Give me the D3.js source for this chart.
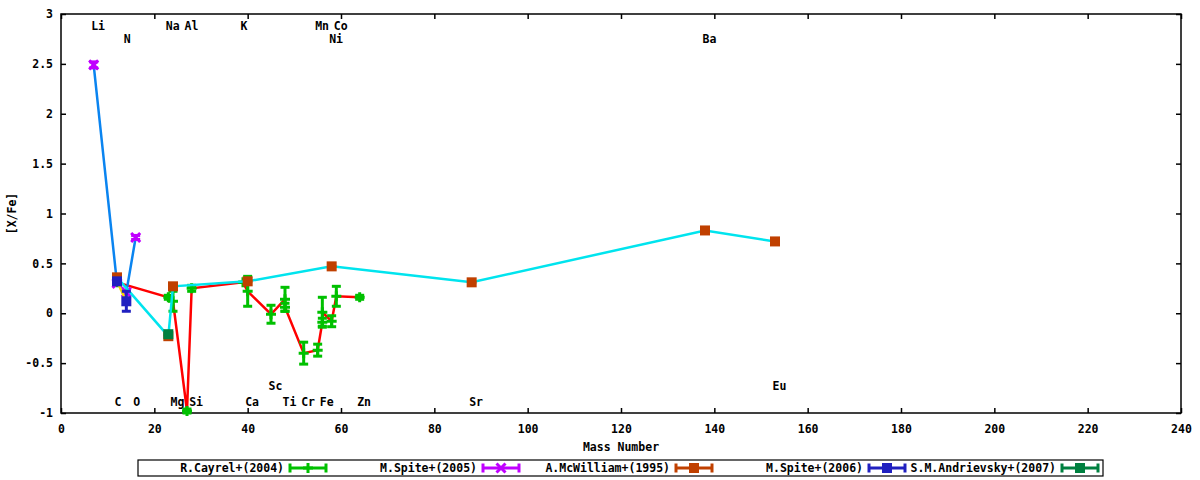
<!DOCTYPE html>
<html>
<head>
<meta charset="utf-8">
<script src="https://cdn.jsdelivr.net/npm/d3@7"></script>
<style>
body { margin: 0; background: #fff; }
svg text { font-family: "DejaVu Sans Mono", monospace; font-weight: bold; font-size: 11.5px; fill: #000; }
</style>
</head>
<body>
<svg></svg>
<script>
// R.Cayrel+(2004)
let cayrelMass = [12, 23, 24, 27, 28, 39, 40, 45, 48, 48, 52, 55, 56, 56, 58, 59, 64];
let cayrelVal = [0.31, 0.16, 0.12, -0.98, 0.25, 0.31, 0.22, -0.01, 0.14, 0.06, -0.4, -0.37, -0.09, 0.01, -0.08, 0.17, 0.16];
let cayrelErr = [0, 0.02, 0.1, 0.02, 0.03, 0, 0.15, 0.09, 0.12, 0.04, 0.11, 0.06, 0.04, 0.15, 0.055, 0.1, 0.02];

// M.Spite+(2005)
let spite05Mass = [7, 12, 14, 16];
let spite05Val = [2.49, 0.3, 0.21, 0.76];
let spite05Err = [0.03, 0, 0, 0.02];

// A.McWilliam+(1995)
let mcwMass = [12, 23, 24, 40, 58, 88, 138, 153];
let mcwVal = [0.36, -0.23, 0.27, 0.32, 0.47, 0.31, 0.83, 0.72];
let mcwErr = [0, 0, 0, 0, 0, 0, 0, 0];

// M.Spite+(2006)
let spite06Mass = [12, 14];
let spite06Val = [0.32, 0.12];
let spite06Err = [0, 0.1];

// S.M.Andrievsky+(2007)
let andMass = [23];
let andVal = [-0.21];
let andErr = [0];

// element labels (name, mass number, [X/Fe] height)
let topNames = ["Li", "Na", "Al", "K", "Mn", "Co", "N", "Ni", "Ba"];
let topMass = [7, 23, 27, 39, 55, 59, 14, 58, 138];
let topY = [2.88, 2.88, 2.88, 2.88, 2.88, 2.88, 2.755, 2.755, 2.755];
let botNames = ["C", "O", "Mg", "Si", "Ca", "Ti", "Cr", "Fe", "Zn", "Sr", "Sc", "Eu"];
let botMass = [12, 16, 24, 28, 40, 48, 52, 56, 64, 88, 45, 153];
let botY = [-0.89, -0.89, -0.89, -0.89, -0.89, -0.89, -0.89, -0.89, -0.89, -0.89, -0.73, -0.73];

// ticks
let xTicks = [0, 20, 40, 60, 80, 100, 120, 140, 160, 180, 200, 220, 240];
let yTicks = [-1, -0.5, 0, 0.5, 1, 1.5, 2, 2.5, 3];

let width = 1200;
let height = 480;
let plotLeft = 61, plotRight = 1181, plotTop = 14, plotBottom = 413;

let series = [
	{ name: "R.Cayrel+(2004)", mass: cayrelMass, val: cayrelVal, err: cayrelErr, line: "#ff0000", color: "#00c000", shape: "plus" },
	{ name: "M.Spite+(2005)", mass: spite05Mass, val: spite05Val, err: spite05Err, line: "#0a84f0", color: "#c000ff", shape: "cross" },
	{ name: "A.McWilliam+(1995)", mass: mcwMass, val: mcwVal, err: mcwErr, line: "#00e4ee", color: "#c04000", shape: "square" },
	{ name: "M.Spite+(2006)", mass: spite06Mass, val: spite06Val, err: spite06Err, line: "#f0e000", color: "#2020c0", shape: "square" },
	{ name: "S.M.Andrievsky+(2007)", mass: andMass, val: andVal, err: andErr, line: "#008040", color: "#008040", shape: "square" }
];

let svg = d3.select("svg").attr("width", width).attr("height", height);

let xScale = d3.scaleLinear().domain([0, 240]).range([plotLeft, plotRight]);
let yScale = d3.scaleLinear().domain([-1, 3]).range([plotBottom, plotTop]);

// axes, ticks pointing inward
let fmt = (d) => String(d);
svg.append("g").attr("transform", "translate(0," + plotBottom + ")")
	.call(d3.axisBottom(xScale).tickValues(xTicks).tickFormat(fmt).tickSize(-5).tickPadding(12));
svg.append("g").attr("transform", "translate(0," + plotTop + ")")
	.call(d3.axisTop(xScale).tickValues(xTicks).tickFormat("").tickSize(-5));
svg.append("g").attr("transform", "translate(" + plotLeft + ",0)")
	.call(d3.axisLeft(yScale).tickValues(yTicks).tickFormat(fmt).tickSize(-5).tickPadding(8));
svg.append("g").attr("transform", "translate(" + plotRight + ",0)")
	.call(d3.axisRight(yScale).tickValues(yTicks).tickFormat("").tickSize(-5));
svg.selectAll(".domain").remove();
svg.selectAll(".tick line").attr("stroke", "#000").attr("stroke-width", 1.5);
svg.selectAll("g").attr("font-size", null).attr("font-family", null);
svg.append("rect")
	.attr("x", plotLeft).attr("y", plotTop)
	.attr("width", plotRight - plotLeft).attr("height", plotBottom - plotTop)
	.attr("fill", "none").attr("stroke", "#000").attr("stroke-width", 1.5);

// axis titles
svg.append("text").attr("x", (plotLeft + plotRight) / 2).attr("y", 451)
	.attr("text-anchor", "middle").text("Mass Number");
svg.append("text")
	.attr("transform", "translate(16," + (plotTop + plotBottom) / 2 + ") rotate(-90)")
	.attr("text-anchor", "middle").text("[X/Fe]");

// element labels
let drawLabels = (names, mass, ys) => {
	names.forEach((n, i) => {
		svg.append("text")
			.attr("x", xScale(mass[i]) - 2.5)
			.attr("y", yScale(ys[i]))
			.attr("dy", "0.36em")
			.attr("font-size", "11px")
			.text(n);
	});
};
drawLabels(topNames, topMass, topY);
drawLabels(botNames, botMass, botY);

let markerPath = { plus: "M-5,0H5M0,-5V5", cross: "M-4.5,-4.5L4.5,4.5M4.5,-4.5L-4.5,4.5" };

let drawMarker = (g, shape, color, cx, cy) => {
	if (shape === "square") {
		g.append("rect").attr("x", cx - 5).attr("y", cy - 5)
			.attr("width", 10).attr("height", 10).attr("fill", color);
	} else {
		g.append("path").attr("transform", "translate(" + cx + "," + cy + ")")
			.attr("d", markerPath[shape]).attr("fill", "none")
			.attr("stroke", color).attr("stroke-width", 3);
	}
};

// series: line, error bars, markers
series.forEach((s) => {
	let g = svg.append("g");
	let pts = s.mass.map((m, i) => [m, s.val[i], s.err[i]]);
	if (pts.length > 1) {
		g.append("path")
			.attr("d", d3.line().x((d) => xScale(d[0])).y((d) => yScale(d[1]))(pts))
			.attr("fill", "none").attr("stroke", s.line).attr("stroke-width", 2.5);
	}
	pts.forEach((d) => {
		let cx = xScale(d[0]);
		let y1 = yScale(d[1] - d[2]);
		let y2 = yScale(d[1] + d[2]);
		g.append("line").attr("x1", cx).attr("x2", cx).attr("y1", y1).attr("y2", y2)
			.attr("stroke", s.color).attr("stroke-width", 3);
		[y1, y2].forEach((yy) => {
			g.append("line").attr("x1", cx - 4.5).attr("x2", cx + 4.5).attr("y1", yy).attr("y2", yy)
				.attr("stroke", s.color).attr("stroke-width", 3);
		});
		drawMarker(g, s.shape, s.color, cx, yScale(d[1]));
	});
});

// legend
let legend = svg.append("g");
legend.append("rect").attr("x", 138).attr("y", 460).attr("width", 965).attr("height", 16)
	.attr("fill", "none").attr("stroke", "#000").attr("stroke-width", 1.2);
series.forEach((s, i) => {
	let tx = 284 + i * 193;
	let ly = 468;
	legend.append("text").attr("x", tx).attr("y", ly).attr("dy", "0.36em")
		.attr("text-anchor", "end").text(s.name);
	let x0 = tx + 6, x1 = tx + 42;
	legend.append("line").attr("x1", x0).attr("x2", x1).attr("y1", ly).attr("y2", ly)
		.attr("stroke", s.color).attr("stroke-width", 3);
	[x0, x1].forEach((xx) => {
		legend.append("line").attr("x1", xx).attr("x2", xx).attr("y1", ly - 4.5).attr("y2", ly + 4.5)
			.attr("stroke", s.color).attr("stroke-width", 3);
	});
	drawMarker(legend, s.shape, s.color, (x0 + x1) / 2, ly);
});
</script>
</body>
</html>
